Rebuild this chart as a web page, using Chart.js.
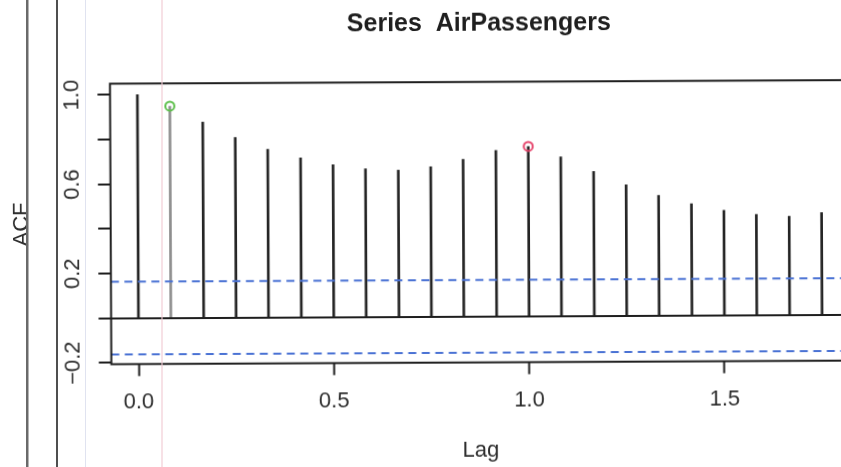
<!DOCTYPE html>
<html>
<head>
<meta charset="utf-8">
<title>Series AirPassengers</title>
<script src="https://cdn.jsdelivr.net/npm/chart.js@4.4.1/dist/chart.umd.min.js"></script>
<style>
  html, body { margin: 0; padding: 0; background: #fff; width: 841px; height: 467px; overflow: hidden; }
  #rules { position: absolute; left: 0; top: 0; z-index: 2; pointer-events: none; }
  #frame { position: absolute; left: 0; top: 0; width: 880px; height: 467px; z-index: 1;
           transform: rotate(-0.28deg); transform-origin: 420px 233px; }
</style>
</head>
<body>
<div id="frame"><canvas id="acf" width="880" height="467"></canvas></div>

<!-- page margin rules -->
<svg id="rules" width="841" height="467" xmlns="http://www.w3.org/2000/svg">
  <rect x="26" y="0" width="2.5" height="467" fill="#6a6a6a"/>
  <rect x="56" y="0" width="2" height="467" fill="#4f4f4f"/>
  <rect x="85" y="0" width="1" height="467" fill="#e0e3f0"/>
  <rect x="161" y="0" width="2" height="467" fill="rgb(240,200,210)" fill-opacity="0.55"/>
</svg>

<script>
// Lags in years (monthly series, frequency 12)
const lags = [0.000, 0.083, 0.167, 0.250, 0.333, 0.417, 0.500, 0.583, 0.667, 0.750, 0.833,
              0.917, 1.000, 1.083, 1.167, 1.250, 1.333, 1.417, 1.500, 1.583, 1.667, 1.750];

// Sample autocorrelations at each lag
const acfValues = [1.000, 0.948, 0.876, 0.807, 0.753, 0.714, 0.682, 0.663, 0.656, 0.671, 0.703,
                   0.743, 0.760, 0.713, 0.646, 0.586, 0.538, 0.500, 0.469, 0.450, 0.442, 0.457];

// 95% white-noise bounds
const confLimits = [0.163, -0.163];

// Highlighted lags (indices into lags)
const markedLags = [1, 12];
const markColors = ['#5cbf4a', '#e6456c'];

// Axis ranges and ticks
const lagRange = [-0.07, 1.82];
const acfRange = [-0.206, 1.050];
const xTicks = [0.0, 0.5, 1.0, 1.5];
const xTickLabels = ['0.0', '0.5', '1.0', '1.5'];
const yTicks = [-0.2, 0.0, 0.2, 0.4, 0.6, 0.8, 1.0];
const yTickLabels = ['\u22120.2', '', '0.2', '', '0.6', '', '1.0'];

const FONT = "'Liberation Sans', Arial, Helvetica, sans-serif";
const INK = '#1e1e1e';
const TEXT = '#2c2c2c';

const barColors = lags.map((_, i) => i === 1 ? '#8e8e8e' : '#242424');

// Frame round the plotting region
const plotBox = {
  id: 'plotBox',
  afterDatasetsDraw(chart) {
    const a = chart.chartArea, ctx = chart.ctx;
    ctx.save();
    ctx.strokeStyle = INK;
    ctx.lineWidth = 2;
    ctx.strokeRect(a.left, a.top, a.right - a.left, a.bottom - a.top);
    ctx.restore();
  }
};

const boundDataset = (v) => ({
  type: 'line',
  data: [{ x: lagRange[0], y: v }, { x: lagRange[1], y: v }],
  borderColor: '#4a72d4',
  borderWidth: 2,
  borderDash: [8, 5.5],
  pointRadius: 0,
  fill: false,
  order: 2
});

new Chart(document.getElementById('acf'), {
  type: 'bar',
  data: {
    datasets: [
      {
        type: 'bar',
        data: lags.map((x, i) => ({ x, y: acfValues[i] })),
        backgroundColor: barColors,
        borderWidth: 0,
        barThickness: 2,
        order: 3
      },
      boundDataset(confLimits[0]),
      boundDataset(confLimits[1]),
      {
        type: 'scatter',
        data: markedLags.map(i => ({ x: lags[i], y: acfValues[i] })),
        pointStyle: 'circle',
        pointRadius: 4.5,
        pointBorderWidth: 2,
        pointBorderColor: markColors,
        pointBackgroundColor: 'rgba(0,0,0,0)',
        order: 1
      }
    ]
  },
  options: {
    responsive: false,
    animation: false,
    devicePixelRatio: 1,
    layout: { padding: { left: 0, top: 0, right: 31, bottom: 0 } },
    plugins: {
      legend: { display: false },
      tooltip: { enabled: false },
      title: {
        display: true,
        fullSize: false,
        text: 'Series  AirPassengers',
        color: INK,
        font: { family: FONT, size: 25, weight: 'bold', lineHeight: 1.2 },
        padding: { top: 9.3, bottom: 42.9 }
      }
    },
    scales: {
      x: {
        type: 'linear',
        position: 'bottom',
        min: lagRange[0],
        max: lagRange[1],
        offset: false,
        afterBuildTicks: s => { s.ticks = xTicks.map(v => ({ value: v })); },
        afterFit: s => { s.height = 104.3; },
        ticks: {
          callback: (v) => xTickLabels[xTicks.indexOf(v)] ?? '',
          color: TEXT,
          font: { family: FONT, size: 22 },
          padding: 13.2,
          maxRotation: 0,
          minRotation: 0
        },
        grid: {
          offset: false,
          drawOnChartArea: false,
          drawTicks: true,
          tickLength: 12,
          tickWidth: 2,
          tickColor: INK
        },
        border: { display: false },
        title: {
          display: true,
          text: 'Lag',
          color: TEXT,
          font: { family: FONT, size: 22 },
          padding: { top: 0, bottom: 2.6 }
        }
      },
      y: {
        type: 'linear',
        position: 'left',
        min: acfRange[0],
        max: acfRange[1],
        afterBuildTicks: s => { s.ticks = yTicks.map(v => ({ value: v })); },
        afterFit: s => { s.width = 110.7; },
        ticks: {
          callback: (v) => yTickLabels[yTicks.indexOf(v)] ?? '',
          color: TEXT,
          font: { family: FONT, size: 22 },
          padding: 3.5,
          minRotation: 90,
          maxRotation: 90,
          crossAlign: 'center'
        },
        grid: {
          drawOnChartArea: true,
          drawTicks: true,
          tickLength: 12.5,
          tickWidth: 2,
          tickColor: INK,
          lineWidth: 2,
          color: (c) => (c.tick && c.tick.value === 0) ? INK : 'rgba(0,0,0,0)'
        },
        border: { display: false },
        title: {
          display: true,
          text: 'ACF',
          color: TEXT,
          font: { family: FONT, size: 22 },
          padding: { top: 8.3, bottom: 0 }
        }
      }
    }
  },
  plugins: [plotBox]
});
</script>
</body>
</html>
